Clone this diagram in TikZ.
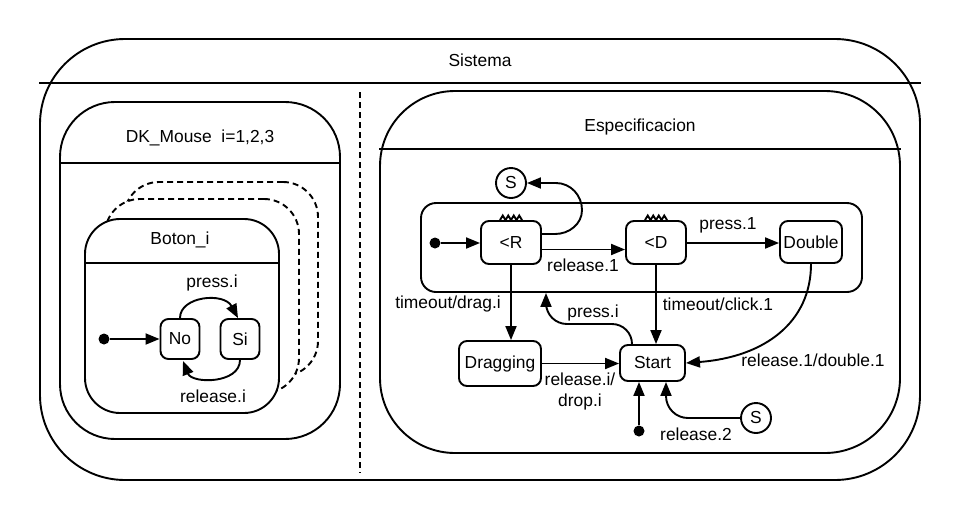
\documentclass[tikz,border=0pt]{standalone}
\usepackage{fontspec}
\setmainfont{Liberation Sans}
\usetikzlibrary{arrows.meta,calc}
\newcommand\lblfont{\fontsize{17.4}{22}\selectfont}
\begin{document}
\begin{tikzpicture}[x=1pt,y=-1pt,
  lw/.style={line width=1.9pt},
  box/.style={draw, lw, rounded corners=#1, fill=white, inner sep=0pt},
  state/.style={draw, lw, rounded corners=8pt, fill=white, font=\lblfont, inner sep=0pt},
  arr/.style={lw, -{Triangle[length=14pt,width=11pt]}},
  lbl/.style={font=\lblfont, inner sep=0pt},
  dot/.style={circle, fill=black, minimum size=11pt, inner sep=0pt},
  sref/.style={circle, draw, lw, fill=white, minimum size=30pt, inner sep=0pt, font=\lblfont},
  sep/.style={lw, dash pattern=on 6pt off 4pt}]
\useasboundingbox (0,0) rectangle (960,520);
% Sistema
\node[box=85pt, minimum width=880pt, minimum height=441pt] (sys) at (480,259.5) {};
\draw[lw] (sys.west |- 0,83) -- (sys.east |- 0,83);
\node[lbl] (tsys) at (480,60) {Sistema};
\coordinate (d1) at (360,92);
\coordinate (d2) at (360,473);
\draw[sep] (d1) -- (d2);
% DK_Mouse
\node[box=55pt, minimum width=280pt, minimum height=337pt] (dk) at (200,270.5) {};
\draw[lw] (dk.west |- 0,163) -- (dk.east |- 0,163);
\node[lbl] (tdk) at (200,138) {DK\_Mouse\ \ i=1,2,3};
\node[box=35pt, dashed, dash pattern=on 6pt off 4pt, minimum width=194pt, minimum height=194pt] (b2) at (221,279) {};
\node[box=35pt, dashed, dash pattern=on 6pt off 4pt, minimum width=194pt, minimum height=194pt] (b1) at (202,296) {};
\node[box=35pt, minimum width=194pt, minimum height=194pt] (bot) at (182,316) {};
\draw[lw] (bot.west |- 0,263) -- (bot.east |- 0,263);
\node[lbl] (tbot) at (180,240) {Boton\_i};
\node[state, minimum width=39pt, minimum height=40pt] (no) at (180,339) {No};
\node[state, minimum width=39pt, minimum height=40pt] (si) at (240,339) {Si};
\node[dot] (i1) at (104,339) {};
\draw[arr] (i1) -- (no.west);
\draw[arr] (no.north) .. controls (180,296) and (224,292) .. ($(si.north)+(-2,0)$);
\draw[arr] (si.south) .. controls (240,384) and (192,384) .. ($(no.south)+(3,1)$);
\node[lbl] (lp) at (212,283) {press.i};
\node[lbl] (lr) at (213,396) {release.i};
% Especificacion
\node[box=75pt, minimum width=520pt, minimum height=362pt] (esp) at (640,272) {};
\draw[lw] (esp.west |- 0,149) -- (esp.east |- 0,149);
\node[lbl] (tesp) at (640,127) {Especificacion};
\node[box=15pt, minimum width=441pt, minimum height=89pt] (inner) at (641.5,247.5) {};
\node[state, minimum width=60pt, minimum height=43pt] (R) at (511,242.5) {<R};
\node[state, minimum width=60pt, minimum height=43pt] (D) at (656,242.5) {<D};
\node[state, minimum width=62pt, minimum height=42pt] (dbl) at (811,242) {Double};
\foreach \n in {R,D}{
  \draw[lw, line join=miter] ($(\n.north)+(-11,0)$) -- ++(2.75,-4.5) -- ++(2.75,4.5) -- ++(2.75,-4.5) -- ++(2.75,4.5)
     -- ++(2.75,-4.5) -- ++(2.75,4.5) -- ++(2.75,-4.5) -- ++(2.75,4.5);
}
\node[sref] (s1) at (511,183) {S};
\node[dot] (i2) at (435,243) {};
\draw[arr] (i2) -- (i2 -| R.west);
\draw[arr] ($(R.east)+(0,7)$) -- ($(D.west)+(0,7)$);
\node[lbl] (lrel1) at (583,265) {release.1};
\draw[arr] (D.east |- 0,243) -- (dbl.west |- 0,243);
\node[lbl] (lpr1) at (728,225) {press.1};
\draw[arr] ($(R.east)+(0,-8.5)$) -- (555,234) to[out=0,in=-90] (582,210) to[out=90,in=0] (556,183) -- (s1.east);
\node[state, minimum width=82pt, minimum height=45pt] (drag) at (500,363.5) {Dragging};
\node[state, minimum width=65pt, minimum height=36pt] (start) at (652.5,363) {Start};
\draw[arr] (R.south) -- (R.south |- drag.north);
\node[lbl] (ltd) at (448,304) {timeout/drag.i};
\draw[arr] (D.south) -- (D.south |- start.north);
\node[lbl] (ltc) at (718,304) {timeout/click.1};
\draw[arr] ($(start.north)+(-20.5,0)$) to[out=90,in=0] (612,324) -- (567,324) to[out=180,in=-90] (546,303) -- (inner.south -| 546,0);
\node[lbl] (lpi) at (593,313) {press.i};
\draw[arr] (drag.east) -- (start.west |- drag.east);
\node[lbl, align=center] (ldrop) at (580,391) {release.i/\\[-1pt]drop.i};
\draw[arr] (dbl.south) .. controls (811,322) and (765,357) .. (start.east);
\node[lbl] (ldbl) at (813,360) {release.1/double.1};
\node[dot] (i3) at (639,431) {};
\draw[arr] (i3) -- (i3 |- start.south);
\node[sref] (s2) at (756,418) {S};
\draw[arr] (s2.west) -- (688,418) to[out=180,in=-90] (666,396) -- (666,0 |- start.south);
\node[lbl] (lr2) at (696,434) {release.2};
\end{tikzpicture}
\end{document}
